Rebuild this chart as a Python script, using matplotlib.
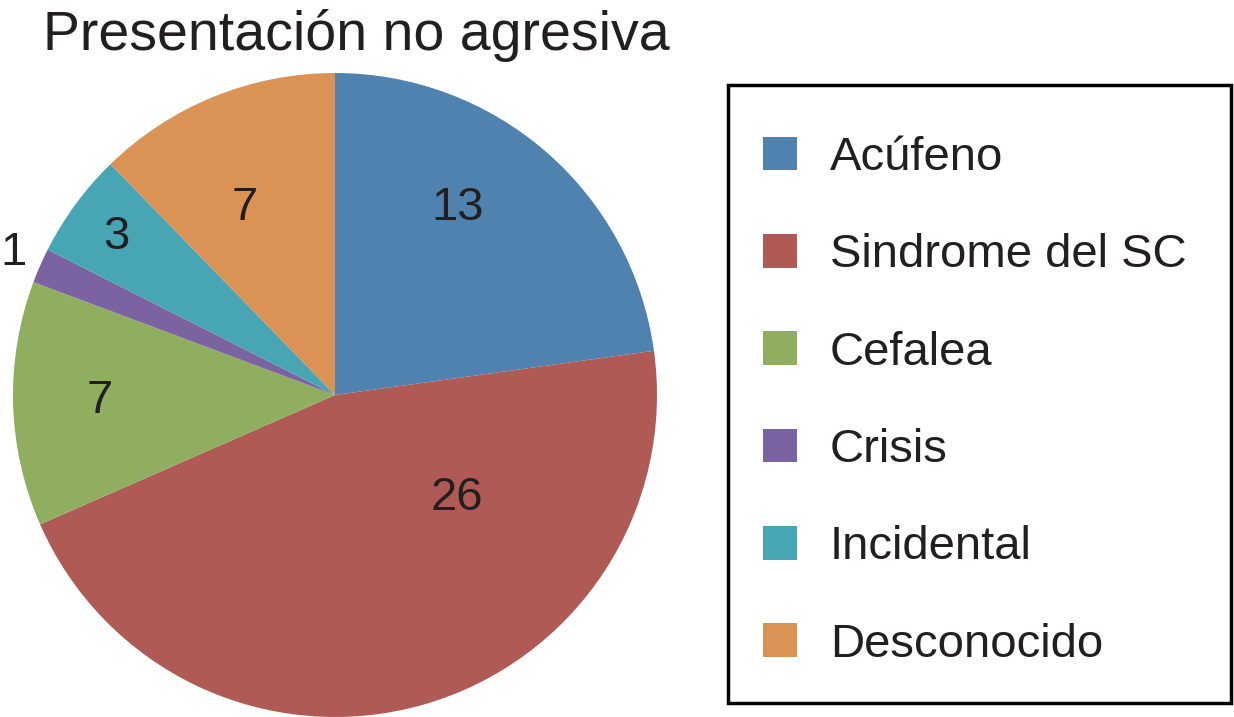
import matplotlib.pyplot as plt
from matplotlib.patches import Patch, Rectangle

plt.rcParams['font.family'] = ['Liberation Sans', 'DejaVu Sans']

# datos
categories = ['Acúfeno', 'Sindrome del SC', 'Cefalea', 'Crisis', 'Incidental', 'Desconocido']
counts = [13, 26, 7, 1, 3, 7]
colors = ['#4F82AF', '#B05A56', '#8FAE60', '#7A63A0', '#48A5B4', '#DB9255']
# posiciones de las etiquetas (en radios, relativo al centro)
label_pos = [(0.38, 0.58), (0.38, -0.32), (-0.73, -0.02), (-1.0, 0.44), (-0.68, 0.49), (-0.28, 0.58)]

W, H = 1234, 717
fig = plt.figure(figsize=(W / 100, H / 100), dpi=100)

cx, cy, r = 335, 395, 322
ax = fig.add_axes([(cx - r) / W, (H - cy - r) / H, 2 * r / W, 2 * r / H])
wedges, _ = ax.pie(counts, colors=colors, startangle=90, counterclock=False,
                   radius=1, wedgeprops=dict(linewidth=0))
ax.set_xlim(-1, 1)
ax.set_ylim(-1, 1)
ax.set_aspect('auto')
ax.axis('off')

for (x, y), v in zip(label_pos, counts):
    ax.text(x, y, str(v), ha='center', va='center', fontsize=34, color='#231F20')

fig.text(356.5 / W, 1 - 50 / H, 'Presentación no agresiva', ha='center', va='baseline',
         fontsize=40, color='#231F20')

# leyenda sin marco + marco propio
handles = [Patch(facecolor=c, edgecolor='none') for c in colors]
leg = fig.legend(handles, categories, loc='upper left',
                 bbox_to_anchor=(763 / W, 1 - 136 / H),
                 fontsize=34, frameon=False,
                 handlelength=0.72, handleheight=0.72, handletextpad=0.7,
                 labelspacing=1.13, borderpad=0, borderaxespad=0)
for t in leg.get_texts():
    t.set_color('#231F20')

fig.patches.append(Rectangle((728 / W, 1 - 703 / H), (1231 - 728) / W, (703 - 85) / H,
                             transform=fig.transFigure, fill=False,
                             edgecolor='black', linewidth=2.5))

fig.savefig('out.png', dpi=100)
